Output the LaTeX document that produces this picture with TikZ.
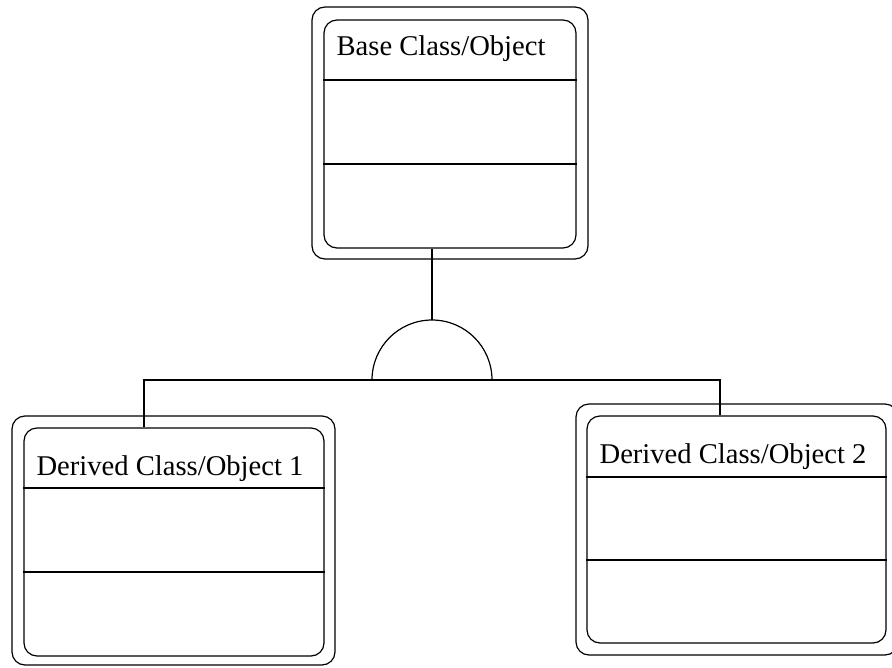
\documentclass[tikz,border=0pt]{standalone}
\usepackage{fontspec}
\setmainfont{Liberation Serif}
\usepackage{tikz}

\begin{document}
\begin{tikzpicture}[
    x=1pt, y=-1pt,
    line width=1.2pt,
    frame/.style={draw, rounded corners=13pt, inner sep=0pt},
    title/.style={anchor=base west, inner sep=0pt, font=\fontsize{28.6}{34}\selectfont}
]
\clip (0,0) rectangle (892,667);

% base class
\node[frame, minimum width=276, minimum height=252] (baseout) at (450,133) {};
\node[frame, minimum width=252, minimum height=228] (base) at (450,134) {};
\node[title] (basetitle) at (336,55) {Base Class/Object};
\draw (base.west |- 0,80) -- (base.east |- 0,80);
\draw (base.west |- 0,164) -- (base.east |- 0,164);

% derived class 1
\node[frame, minimum width=323, minimum height=249] (derout1) at (173.5,540.5) {};
\node[frame, minimum width=300, minimum height=228] (der1) at (174,542) {};
\node[title] (dertitle1) at (36,475) {Derived Class/Object 1};
\draw (der1.west |- 0,488) -- (der1.east |- 0,488);
\draw (der1.west |- 0,572) -- (der1.east |- 0,572);

% derived class 2
\node[frame, minimum width=322, minimum height=251] (derout2) at (737,529.5) {};
\node[frame, minimum width=299, minimum height=227] (der2) at (736.5,529.5) {};
\node[title] (dertitle2) at (599,463) {Derived Class/Object 2};
\draw (der2.west |- 0,477) -- (der2.east |- 0,477);
\draw (der2.west |- 0,560) -- (der2.east |- 0,560);

% inheritance junction (y axis points down, so the arc runs through 270)
\coordinate (join) at (432,380);
\coordinate (jtop) at (432,320);
\coordinate (t1) at (144,380);
\coordinate (t2) at (720,380);

\draw (base.south -| join) -- (jtop);
\draw ([xshift=-60]join) arc (180:360:60);
\draw (der1.north -| t1) -- (t1) -- (t2) -- (der2.north -| t2);
\end{tikzpicture}
\end{document}
